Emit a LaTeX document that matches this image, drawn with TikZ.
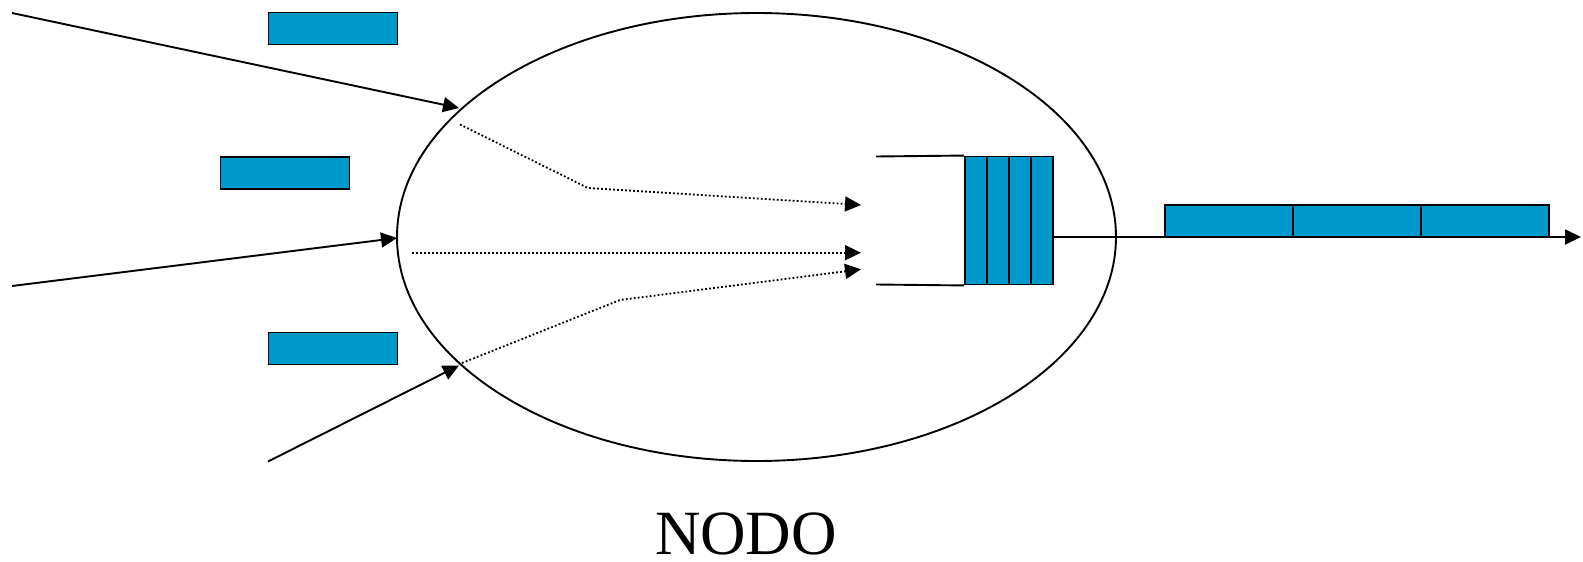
\documentclass[tikz,border=0pt]{standalone}
\usepackage{fontspec}
\setmainfont{Liberation Serif}
\usetikzlibrary{arrows.meta,shapes.geometric}
\definecolor{pblue}{RGB}{0,153,204}
\begin{document}
\begin{tikzpicture}[x=1pt,y=-1pt,
  ln/.style={line width=1.9pt,line cap=butt},
  arr/.style={ln,-{Triangle[length=16pt,width=15pt]}},
  dot/.style={line width=1.8pt,dash pattern=on 1.8pt off 2.2pt,-{Triangle[length=16pt,width=15pt]}},
  pkt/.style={draw,line width=1.9pt,fill=pblue,inner sep=0pt,minimum width=129pt,minimum height=32pt},
  cell/.style={draw,line width=1.9pt,fill=pblue,inner sep=0pt,minimum width=22pt,minimum height=128pt},
  opkt/.style={draw,line width=1.9pt,fill=pblue,inner sep=0pt,minimum width=128.2pt,minimum height=32pt}]
\useasboundingbox (0,0) rectangle (1583,562);
% main ellipse
\node[ellipse,draw,line width=1.9pt,inner sep=0pt,minimum width=719pt,minimum height=448pt] (nodo) at (756.5,237) {};
% packets on the left
\node[pkt] (p1) at (333,28.5) {};
\node[pkt] (p2) at (285,173) {};
\node[pkt] (p3) at (333,348.5) {};
% incoming arrows
\coordinate (s1) at (12,13);
\coordinate (e1) at (459,108);
\coordinate (s2) at (12,286);
\coordinate (e2) at (397,238);
\coordinate (s3) at (268,461.5);
\coordinate (e3) at (459,365.5);
\draw[arr] (s1) -- (e1);
\draw[arr] (s2) -- (e2);
\draw[arr] (s3) -- (e3);
% dotted internal paths
\coordinate (d1s) at (460,124.5);
\coordinate (d1b) at (588,188);
\coordinate (d1e) at (861,205);
\coordinate (d2s) at (412,252.7);
\coordinate (d2e) at (861,252.7);
\coordinate (d3s) at (462,363);
\coordinate (d3b) at (620,300);
\coordinate (d3e) at (861,269.3);
\draw[dot] (d1s) -- (d1b) -- (d1e);
\draw[dot] (d2s) -- (d2e);
\draw[dot] (d3s) -- (d3b) -- (d3e);
% queue
\node[cell] (c1) at (976,220.5) {};
\node[cell] (c2) at (998,220.5) {};
\node[cell] (c3) at (1020,220.5) {};
\node[cell] (c4) at (1042,220.5) {};
\coordinate (qt) at (876,156.5);
\coordinate (qb) at (876,284.5);
\draw[ln] (qt) -- (c1.north west);
\draw[ln] (qb) -- (c1.south west);
% output
\coordinate (out) at (1581,237);
\draw[arr] (c4.east |- out) -- (out);
\node[opkt] (o1) at (1228.7,221) {};
\node[opkt] (o2) at (1356.9,221) {};
\node[opkt] (o3) at (1485.1,221) {};
% label
\node[anchor=base,font=\fontsize{63}{70}\selectfont,inner sep=0pt] (lab) at (746,554) {NODO};
\end{tikzpicture}
\end{document}
